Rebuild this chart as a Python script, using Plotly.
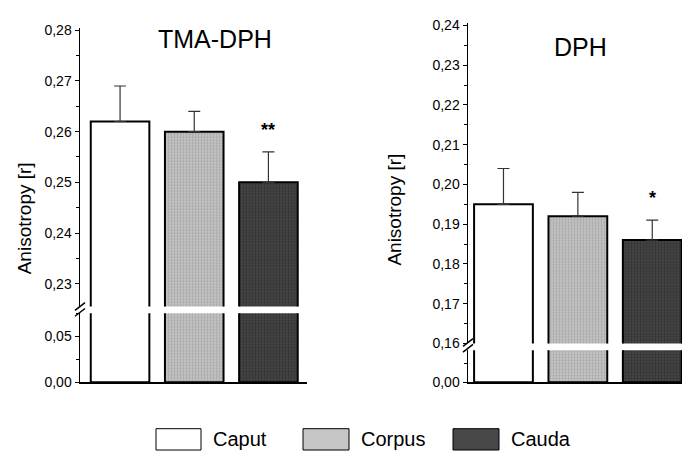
import plotly.graph_objects as go

# ---------------- data ----------------
categories = ["Caput", "Corpus", "Cauda"]
tma_values = [0.262, 0.260, 0.250]
tma_errors = [0.007, 0.004, 0.006]
tma_signif = ["", "", "**"]
dph_values = [0.195, 0.192, 0.186]
dph_errors = [0.009, 0.006, 0.005]
dph_signif = ["", "", "*"]

tma_upper_ticks = [0.23, 0.24, 0.25, 0.26, 0.27, 0.28]
tma_upper_labels = ["0,23", "0,24", "0,25", "0,26", "0,27", "0,28"]
tma_lower_ticks = [0.00, 0.05]
tma_lower_labels = ["0,00", "0,05"]
dph_upper_ticks = [0.16, 0.17, 0.18, 0.19, 0.20, 0.21, 0.22, 0.23, 0.24]
dph_upper_labels = ["0,16", "0,17", "0,18", "0,19", "0,20", "0,21", "0,22", "0,23", "0,24"]
dph_lower_ticks = [0.00]
dph_lower_labels = ["0,00"]

panel_titles = ["TMA-DPH", "DPH"]
y_title = "Anisotropy [r]"

# ---------------- styles ----------------
W, H = 682, 459
FONT = "Liberation Sans, Arial, sans-serif"
fills = {"Caput": "#ffffff", "Corpus": "#c6c6c6", "Cauda": "#484848"}
pat_fg = {"Caput": None, "Corpus": "#8a8a8a", "Cauda": "#1a1a1a"}


def px(x):
    return x / W


def py(y):
    return 1 - y / H


fig = go.Figure()

panels = [
    dict(vals=tma_values, errs=tma_errors, sig=tma_signif, xa="x", yu="y", yl="y2", star_shift=22),
    dict(vals=dph_values, errs=dph_errors, sig=dph_signif, xa="x2", yu="y3", yl="y4", star_shift=22),
]

for p in panels:
    for i, cat in enumerate(categories):
        marker = dict(color=fills[cat], line=dict(color="black", width=2))
        if pat_fg[cat]:
            marker["pattern"] = dict(shape=".", fgcolor=pat_fg[cat], size=3, solidity=0.45, fillmode="overlay")
        # upper segment (with error bars)
        fig.add_trace(go.Bar(
            x=[i], y=[p["vals"][i]], width=0.79, xaxis=p["xa"], yaxis=p["yu"],
            marker=marker, showlegend=False, hoverinfo="skip",
            error_y=dict(type="data", symmetric=False, array=[p["errs"][i]], arrayminus=[0],
                         color="#333333", thickness=1.2, width=6),
        ))
        # lower segment
        fig.add_trace(go.Bar(
            x=[i], y=[p["vals"][i]], width=0.79, xaxis=p["xa"], yaxis=p["yl"],
            marker=marker, showlegend=False, hoverinfo="skip",
        ))
        if p["sig"][i]:
            fig.add_annotation(x=i, y=p["vals"][i] + p["errs"][i], xref=p["xa"], yref=p["yu"],
                               text="<b>" + p["sig"][i] + "</b>", showarrow=False, yshift=p["star_shift"],
                               xanchor="center", yanchor="middle",
                               font=dict(family=FONT, size=18, color="black"))

tick_font = dict(family=FONT, size=14, color="black")
yax_common = dict(showline=True, linecolor="black", linewidth=1.5, ticks="outside", ticklen=4,
                  tickwidth=1, tickcolor="black", showgrid=False, zeroline=False,
                  tickfont=tick_font, tickmode="array", fixedrange=True)
xax_common = dict(showline=True, linecolor="black", linewidth=2, showticklabels=False,
                  ticks="", showgrid=False, zeroline=False, fixedrange=True)

fig.update_layout(
    width=W, height=H, margin=dict(l=0, r=0, t=0, b=0),
    paper_bgcolor="white", plot_bgcolor="white", barmode="overlay", showlegend=False,
    xaxis=dict(domain=[px(80), px(307)], range=[-0.54, 2.52], anchor="y2", **xax_common),
    xaxis2=dict(domain=[px(468), 1.0], range=[-0.477, 2.40], anchor="y4", **xax_common),
    yaxis=dict(domain=[py(310), py(22.4)], range=[0.2255, 0.2805], anchor="x",
               tickvals=tma_upper_ticks, ticktext=tma_upper_labels,
               minor=dict(dtick=0.005, tick0=0.2, ticks="outside", ticklen=3, tickcolor="black"),
               **yax_common),
    yaxis2=dict(domain=[py(388), py(317)], range=[0, 0.0755], anchor="x",
                tickvals=tma_lower_ticks, ticktext=tma_lower_labels,
                minor=dict(dtick=0.025, tick0=0, ticks="outside", ticklen=3, tickcolor="black"),
                **yax_common),
    yaxis3=dict(domain=[py(348), py(18)], range=[0.16, 0.2405], anchor="x2",
                tickvals=dph_upper_ticks, ticktext=dph_upper_labels,
                minor=dict(dtick=0.005, tick0=0.1, ticks="outside", ticklen=3, tickcolor="black"),
                **yax_common),
    yaxis4=dict(domain=[py(388), py(355)], range=[0, 0.087], anchor="x2",
                tickvals=dph_lower_ticks, ticktext=dph_lower_labels,
                minor=dict(dtick=0.05, tick0=0, ticks="outside", ticklen=3, tickcolor="black"),
                **yax_common),
)

ann = dict(xref="paper", yref="paper", showarrow=False, xanchor="center", yanchor="middle")
# panel titles and y-axis titles
fig.add_annotation(x=px(215), y=py(34), text=panel_titles[0],
                   font=dict(family=FONT, size=25, color="black"), **ann)
fig.add_annotation(x=px(580), y=py(42), text=panel_titles[1],
                   font=dict(family=FONT, size=25, color="black"), **ann)
fig.add_annotation(x=px(24), y=py(219), text=y_title, textangle=-90,
                   font=dict(family=FONT, size=19, color="black"), **ann)
fig.add_annotation(x=px(395), y=py(210), text=y_title, textangle=-90,
                   font=dict(family=FONT, size=19, color="black"), **ann)

# axis break marks
for (bx, by) in [(80, 313), (468, 350)]:
    for dy in (-3, 3):
        fig.add_shape(type="line", xref="paper", yref="paper",
                      x0=px(bx - 5), y0=py(by + dy + 4), x1=px(bx + 5), y1=py(by + dy - 4),
                      line=dict(color="black", width=1.5))

# legend
legend_boxes = [(156, 201), (303, 349), (453, 499)]
for cat, (x0, x1) in zip(categories, legend_boxes):
    fig.add_shape(type="rect", xref="paper", yref="paper", x0=px(x0), x1=px(x1), y0=py(458), y1=py(436),
                  fillcolor=fills[cat], line=dict(color="black", width=1))
    fig.add_annotation(x=px(x1 + 10), y=py(447), text=cat,
                       font=dict(family=FONT, size=20, color="black"),
                       **{**ann, "xanchor": "left"})

fig.write_html("out.html", config={"displayModeBar": False, "staticPlot": True},
               post_script="document.body.style.margin='0';document.body.style.overflow='hidden';")
